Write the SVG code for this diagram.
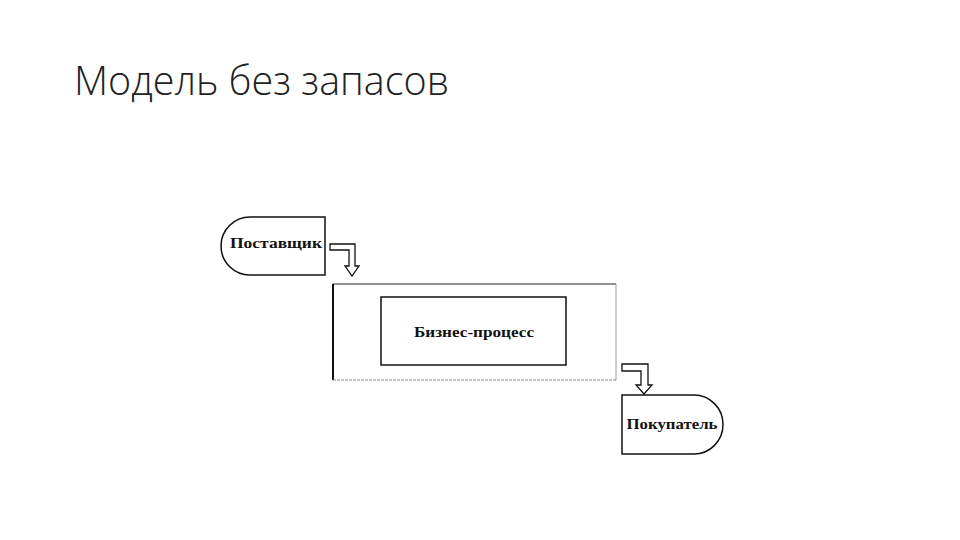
<svg xmlns="http://www.w3.org/2000/svg" width="960" height="540" viewBox="0 0 960 540">
<style>
.title{font-family:"Open Sans","Liberation Sans",sans-serif;font-weight:300;font-size:40px;fill:#222}
.lbl{font-family:"Liberation Serif","DejaVu Serif",serif;font-weight:bold;font-size:15px;fill:#111;text-anchor:middle}
.shape{fill:#fff;stroke:#111;stroke-width:1.5}
.arrow{fill:#fff;stroke:#111;stroke-width:1.3;stroke-linejoin:miter}
</style>
<rect width="960" height="540" fill="#fff"/>
<text class="title" x="74" y="95" textLength="375" lengthAdjust="spacingAndGlyphs">Модель без запасов</text>

<g id="supplier">
<path class="shape" d="M325,217 L250,217 A29,29 0 0 0 250,275 L325,275 Z"/>
<text class="lbl" x="276" y="248" textLength="92" lengthAdjust="spacingAndGlyphs">Поставщик</text>
</g>

<g id="process-frame">
<line x1="333" y1="284" x2="616" y2="284" stroke="#222" stroke-width="1"/>
<line x1="333" y1="284" x2="333" y2="380" stroke="#111" stroke-width="2"/>
<line x1="616" y1="284" x2="616" y2="380" stroke="#999" stroke-width="1"/>
<line x1="333" y1="380" x2="616" y2="380" stroke="#888" stroke-width="1" stroke-dasharray="3,1"/>
</g>

<g id="business-process">
<rect class="shape" x="381" y="297" width="185" height="68"/>
<text class="lbl" x="474" y="337" textLength="120" lengthAdjust="spacingAndGlyphs">Бизнес-процесс</text>
</g>

<g id="customer">
<path class="shape" d="M622,395 L694,395 A29,29.5 0 0 1 694,454 L622,454 Z"/>
<text class="lbl" x="672" y="429" textLength="91" lengthAdjust="spacingAndGlyphs">Покупатель</text>
</g>

<g id="connectors">
<path class="arrow" d="M330,244 L355,244 L355,266 L359,266 L352,276 L345,266 L349,266 L349,250 L330,250 Z"/>
<path class="arrow" d="M622,364 L648,364 L648,385 L652,385 L644,394 L636,385 L641,385 L641,371 L622,371 Z"/>
</g>
</svg>
